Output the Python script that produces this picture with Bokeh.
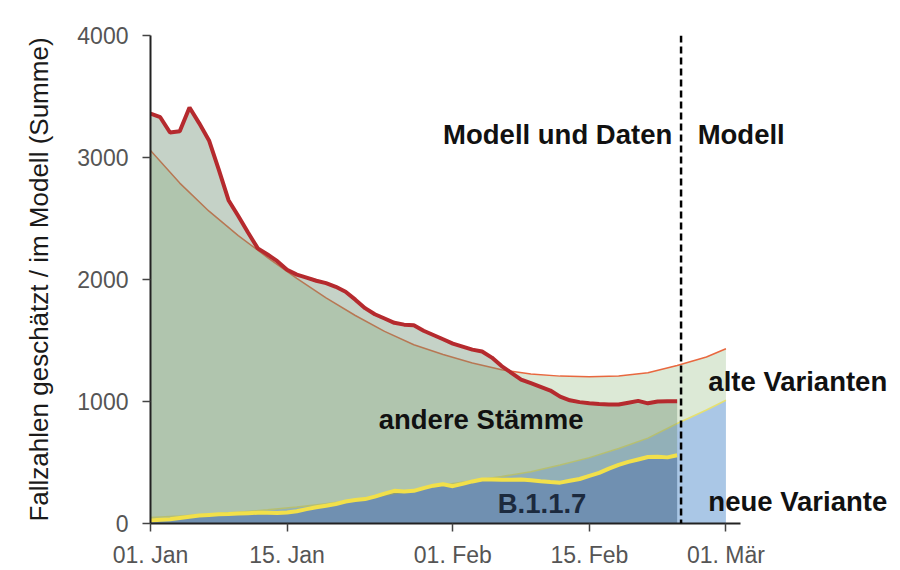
from bokeh.plotting import figure
from bokeh.models import Range1d, FixedTicker, Span, Label
from bokeh.embed import file_html
from bokeh.resources import INLINE

# ---- data ----
tick_days = [0, 14, 31, 45, 59]
tick_labels = ["01. Jan", "15. Jan", "01. Feb", "15. Feb", "01. Mär"]
y_ticks = [0, 1000, 2000, 3000, 4000]

data_days = list(range(55))
data_total = [3360, 3330, 3205, 3215, 3410, 3280, 3140, 2900, 2650, 2520,
              2385, 2255, 2205, 2150, 2080, 2040, 2015, 1990, 1970, 1940,
              1900, 1835, 1765, 1715, 1680, 1645, 1630, 1625, 1580, 1545,
              1510, 1475, 1450, 1425, 1410, 1360, 1290, 1235, 1180, 1150,
              1120, 1090, 1040, 1010, 995, 985, 980, 976, 975, 990,
              1005, 985, 1000, 1002, 1002]
data_b117 = [25, 30, 35, 45, 55, 65, 70, 75, 78, 82,
             85, 88, 88, 87, 90, 100, 118, 133, 145, 160,
             180, 192, 200, 220, 245, 268, 262, 268, 290, 310,
             322, 306, 325, 345, 360, 360, 358, 358, 360, 355,
             347, 340, 335, 350, 365, 390, 415, 450, 480, 505,
             525, 545, 548, 542, 560]

model_days = [0, 3, 6, 9, 12, 15, 18, 21, 24, 27, 30, 33, 36, 39, 42, 45, 48, 51, 54, 57, 59]
model_total = [3058, 2790, 2560, 2360, 2180, 2010, 1850, 1705, 1575, 1465, 1385,
               1315, 1260, 1225, 1208, 1203, 1210, 1235, 1295, 1365, 1432]
model_b117 = [50, 62, 75, 92, 112, 135, 162, 195, 232, 272, 315,
              350, 385, 425, 480, 540, 615, 700, 820, 930, 1010]

split_day = 54.4
x_axis_end = 60.5

FONT = "Liberation Sans"

p = figure(width=900, height=570, output_backend="svg", toolbar_location=None,
           x_range=Range1d(0, 76.9), y_range=Range1d(0, 4000))
p.min_border_left = 150
p.min_border_right = 0
p.min_border_top = 35
p.min_border_bottom = 47
p.outline_line_color = None
p.grid.visible = False
p.background_fill_color = "white"
p.border_fill_color = "white"

# model areas
zeros_m = [0] * len(model_days)
p.varea(x=model_days, y1=zeros_m, y2=model_b117, fill_color="#aac7e6")
p.varea(x=model_days, y1=model_b117, y2=model_total, fill_color="#dce9d6")
p.line(model_days, model_total, line_color="#e8683f", line_width=1.5)
p.line(model_days, model_b117, line_color="#e6e070", line_width=1.5)

# data areas (semi-transparent over the model)
zeros_d = [0] * len(data_days)
p.varea(x=data_days, y1=zeros_d, y2=data_b117, fill_color="#35597c", fill_alpha=0.5)
p.varea(x=data_days, y1=data_b117, y2=data_total, fill_color="#6e8e73", fill_alpha=0.4)
p.line(data_days, data_b117, line_color="#f2e04a", line_width=4)
p.line(data_days, data_total, line_color="#b52a2e", line_width=4)

p.add_layout(Span(location=split_day, dimension="height", line_color="black",
                  line_width=2.5, line_dash="7 4"))

# axes
for ax in (p.xaxis[0], p.yaxis[0]):
    ax.axis_line_width = 2
    ax.axis_line_color = "#222222"
    ax.major_tick_line_color = "#444444"
    ax.major_tick_line_width = 1.5
    ax.major_tick_in = 0
    ax.major_tick_out = 8
    ax.minor_tick_in = 0
    ax.minor_tick_out = 0
    ax.major_label_text_font = FONT
    ax.major_label_text_font_size = "23px"
    ax.major_label_text_color = "#555555"

p.xaxis.bounds = (0, x_axis_end)
p.xaxis.ticker = FixedTicker(ticks=tick_days)
p.xaxis.major_label_overrides = {d: l for d, l in zip(tick_days, tick_labels)}
p.xaxis.major_label_standoff = 10
p.yaxis.ticker = FixedTicker(ticks=y_ticks)
p.yaxis.major_label_standoff = 14
p.yaxis.axis_label = "Fallzahlen geschätzt / im Modell (Summe)"
p.yaxis.axis_label_text_font = FONT
p.yaxis.axis_label_text_font_size = "26px"
p.yaxis.axis_label_text_font_style = "normal"
p.yaxis.axis_label_text_color = "#1a1a1a"
p.yaxis.axis_label_standoff = 20

labels = [
    ("Modell und Daten", 30.0, 3190, "#111111"),
    ("Modell", 56.1, 3190, "#111111"),
    ("alte Varianten", 57.2, 1165, "#111111"),
    ("andere Stämme", 23.4, 854, "#111111"),
    ("B.1.1.7", 35.6, 165, "#1c2a3e"),
    ("neue Variante", 57.2, 182, "#111111"),
]
for txt, lx, ly, col in labels:
    p.add_layout(Label(x=lx, y=ly, text=txt, text_font=FONT, text_font_size="27.5px",
                       text_font_style="bold", text_color=col,
                       text_baseline="alphabetic", text_align="left"))

open("out.html", "w").write(file_html(p, INLINE))
